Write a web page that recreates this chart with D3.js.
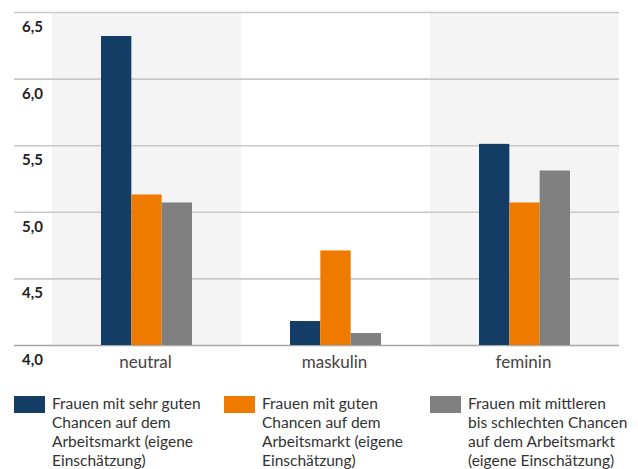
<!DOCTYPE html>
<html>
<head>
<meta charset="utf-8">
<script src="https://cdn.jsdelivr.net/npm/d3@7"></script>
<style>
  html, body { margin: 0; padding: 0; background: #fff; }
  svg { display: block; }
  text { font-family: Lato, "Open Sans", sans-serif; }
</style>
</head>
<body>
<svg id="chart" width="638" height="469"></svg>
<script>
// Kategorien und Werte je Gruppe
const categories = ["neutral", "maskulin", "feminin"];
const seriesNames = [
  "Frauen mit sehr guten Chancen auf dem Arbeitsmarkt (eigene Einschätzung)",
  "Frauen mit guten Chancen auf dem Arbeitsmarkt (eigene Einschätzung)",
  "Frauen mit mittleren bis schlechten Chancen auf dem Arbeitsmarkt (eigene Einschätzung)"
];
const sehrGut = [6.32, 4.18, 5.51];
const gut = [5.13, 4.71, 5.07];
const mittelSchlecht = [5.07, 4.09, 5.31];
const yTicks = [4.0, 4.5, 5.0, 5.5, 6.0, 6.5];
const yTickLabels = ["4,0", "4,5", "5,0", "5,5", "6,0", "6,5"];
const legendLines = [
  ["Frauen mit sehr guten", "Chancen auf dem", "Arbeitsmarkt (eigene", "Einschätzung)"],
  ["Frauen mit guten", "Chancen auf dem", "Arbeitsmarkt (eigene", "Einschätzung)"],
  ["Frauen mit mittleren", "bis schlechten Chancen", "auf dem Arbeitsmarkt", "(eigene Einschätzung)"]
];
const colors = ["#143d66", "#ee7a00", "#808080"];

const seriesValues = [sehrGut, gut, mittelSchlecht];

const svg = d3.select("#chart");

const plot = { left: 52, right: 619, top: 12, bottom: 345, gridLeft: 14 };

const x0 = d3.scaleBand().domain(categories).range([plot.left, plot.right]).padding(0);
const x1 = d3.scaleBand().domain(d3.range(seriesValues.length)).range([49, 140]).padding(0);
const y = d3.scaleLinear().domain([4, 6.5]).range([plot.bottom, plot.top]);

// Hintergrundstreifen für jede zweite Kategorie
svg.append("g")
  .selectAll("rect")
  .data(categories.filter((d, i) => i % 2 === 0))
  .join("rect")
  .attr("x", d => x0(d))
  .attr("y", plot.top)
  .attr("width", x0.bandwidth())
  .attr("height", plot.bottom - plot.top)
  .attr("fill", "#f4f4f4");

// Gitterlinien
const grid = svg.append("g")
  .attr("transform", `translate(0,0)`)
  .call(d3.axisLeft(y).tickValues(yTicks).tickSize(-(plot.right - plot.gridLeft)).tickFormat(""))
  .attr("transform", `translate(${plot.gridLeft},0)`);
grid.select(".domain").remove();
grid.selectAll(".tick line")
  .attr("stroke", d => d === 4 ? "#a8a8a8" : "#c8c8c8")
  .attr("stroke-width", 1.6);

// Balken
const groups = svg.append("g")
  .selectAll("g")
  .data(categories)
  .join("g")
  .attr("transform", d => `translate(${x0(d)},0)`);

groups.selectAll("rect")
  .data((d, ci) => seriesValues.map((vals, si) => ({ si, v: vals[ci] })))
  .join("rect")
  .attr("x", d => x1(d.si))
  .attr("width", x1.bandwidth())
  .attr("y", d => y(d.v))
  .attr("height", d => y(4) - y(d.v))
  .attr("fill", d => colors[d.si]);

// Y-Achsenbeschriftung
svg.append("g")
  .selectAll("text")
  .data(yTicks)
  .join("text")
  .attr("x", 22)
  .attr("y", d => y(d) + 20)
  .attr("font-size", 15)
  .attr("font-weight", 700)
  .attr("fill", "#222")
  .text((d, i) => yTickLabels[i]);

// Kategorienbeschriftung
svg.append("g")
  .selectAll("text")
  .data(categories)
  .join("text")
  .attr("x", d => x0(d) + x0.bandwidth() / 2 - 1)
  .attr("y", 368)
  .attr("text-anchor", "middle")
  .attr("font-size", 17)
  .attr("fill", "#444")
  .text(d => d);

// Legende
const legendX = [14, 224, 430];
const legend = svg.append("g")
  .selectAll("g")
  .data(seriesNames)
  .join("g")
  .attr("transform", (d, i) => `translate(${legendX[i]},396)`);

legend.append("rect")
  .attr("width", 31)
  .attr("height", 17)
  .attr("fill", (d, i) => colors[i]);

legend.append("text")
  .attr("x", 38)
  .attr("y", 12.5)
  .attr("font-size", 15.5)
  .attr("fill", "#333")
  .selectAll("tspan")
  .data((d, i) => legendLines[i])
  .join("tspan")
  .attr("x", 38)
  .attr("dy", (d, i) => i === 0 ? 0 : 19)
  .text(d => d);
</script>
</body>
</html>
